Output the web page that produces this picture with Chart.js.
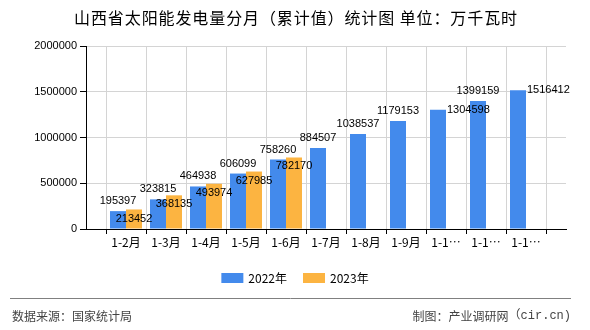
<!DOCTYPE html>
<html lang="zh-CN">
<head>
    <meta charset="UTF-8">
    <title>山西省太阳能发电量分月（累计值）统计图</title>
    <script src="https://cdn.jsdelivr.net/npm/chart.js@4.4.1/dist/chart.umd.min.js"></script>
    <style>
        body {
            margin: 0;
            background-color: #ffffff;
        }
        .wrap {
            width: 590px;
            height: 330px;
        }
    </style>
</head>
<body>
    <div class="wrap">
        <canvas id="solarChart" width="590" height="330"></canvas>
    </div>

    <script>
        const months = ['1-2月', '1-3月', '1-4月', '1-5月', '1-6月', '1-7月', '1-8月', '1-9月', '1-10月', '1-11月', '1-12月'];
        const values2022 = [195397, 323815, 464938, 606099, 758260, 884507, 1038537, 1179153, 1304598, 1399159, 1516412];
        const values2023 = [213452, 368135, 493974, 627985, 782170];
        const yTicks = [0, 500000, 1000000, 1500000, 2000000];
        const seriesNames = ['2022年', '2023年'];

        const titleText = '山西省太阳能发电量分月（累计值）统计图 单位：万千瓦时';
        const sourceText = '数据来源：国家统计局';
        const makerText = '制图：产业调研网';
        const makerSite = '（cir.cn)';

        const numFont = '11px "Liberation Sans", Arial, sans-serif';
        const cjkFont = '"Noto Sans CJK SC", "Liberation Sans", sans-serif';

        // blank slot at each end so the categories sit between the axis edges
        const pad = arr => [null].concat(months.map((m, i) => (i < arr.length ? arr[i] : null)), [null]);
        const labels = [''].concat(months, ['']);

        // title, footer, legend and value labels
        const decorPlugin = {
            id: 'decor',
            afterDraw(chart) {
                const ctx = chart.ctx;
                ctx.save();

                ctx.fillStyle = '#000';
                ctx.font = '16px ' + cjkFont;
                ctx.letterSpacing = '0.9px';
                ctx.textAlign = 'center';
                ctx.textBaseline = 'middle';
                ctx.fillText(titleText, 296, 18);
                ctx.letterSpacing = '0px';

                // legend
                const items = chart.data.datasets.map(ds => ({ text: ds.label, color: ds.backgroundColor }));
                ctx.font = '12px ' + cjkFont;
                const boxW = 22, gap = 5, itemGap = 16;
                const widths = items.map(it => boxW + gap + ctx.measureText(it.text).width);
                let x = 295 - (widths.reduce((a, b) => a + b, 0) + itemGap * (items.length - 1)) / 2;
                items.forEach((it, i) => {
                    ctx.fillStyle = it.color;
                    ctx.fillRect(x, 273, boxW, 10);
                    ctx.fillStyle = '#000';
                    ctx.textAlign = 'left';
                    ctx.fillText(it.text, x + boxW + gap, 278.5);
                    x += widths[i] + itemGap;
                });

                // footer
                ctx.strokeStyle = '#808080';
                ctx.lineWidth = 1;
                ctx.beginPath();
                ctx.moveTo(10, 298.5);
                ctx.lineTo(571, 298.5);
                ctx.stroke();
                ctx.fillStyle = '#444';
                ctx.font = '12px ' + cjkFont;
                ctx.textAlign = 'left';
                ctx.fillText(sourceText, 12, 316);
                ctx.font = '12px "Liberation Mono", "Noto Sans CJK SC", monospace';
                ctx.textAlign = 'right';
                ctx.fillText(makerSite, 571, 316);
                const siteW = ctx.measureText(makerSite).width;
                ctx.font = '12px ' + cjkFont;
                ctx.fillText(makerText, 571 - siteW, 316);
                ctx.restore();
            },
            afterDatasetsDraw(chart, args, opts) {
                const ctx = chart.ctx;
                ctx.save();
                ctx.font = numFont;
                ctx.fillStyle = '#000';
                ctx.textBaseline = 'middle';
                chart.data.datasets.forEach((ds, d) => {
                    chart.getDatasetMeta(d).data.forEach((bar, i) => {
                        const v = ds.data[i];
                        if (v === null || v === undefined) return;
                        const txt = String(v);
                        if (d === 0 && opts.sideLabels.includes(labels[i])) {
                            ctx.textAlign = 'left';
                            ctx.fillText(txt, bar.x + bar.width / 2 + 1, bar.y);
                        } else if (d === 0) {
                            ctx.textAlign = 'center';
                            ctx.fillText(txt, bar.x, bar.y - 10);
                        } else {
                            ctx.textAlign = 'center';
                            ctx.fillText(txt, bar.x, bar.y + 9);
                        }
                    });
                });
                ctx.restore();
            }
        };

        new Chart(document.getElementById('solarChart').getContext('2d'), {
            type: 'bar',
            data: {
                labels: labels,
                datasets: [
                    { label: seriesNames[0], data: pad(values2022), backgroundColor: '#438aec' },
                    { label: seriesNames[1], data: pad(values2023), backgroundColor: '#fcb441' }
                ]
            },
            options: {
                responsive: false,
                animation: false,
                layout: { padding: { top: 46, right: 24, bottom: 81, left: 0 } },
                datasets: { bar: { categoryPercentage: 0.8, barPercentage: 1 } },
                scales: {
                    x: {
                        offset: false,
                        grid: { color: '#d4d4d4', tickColor: '#000', tickLength: 5 },
                        border: { color: '#000' },
                        ticks: {
                            autoSkip: false,
                            maxRotation: 0,
                            color: '#000',
                            padding: 1,
                            font: { size: 12, family: cjkFont },
                            callback: function (val) {
                                const s = this.getLabelForValue(val);
                                return s.length > 4 ? s.slice(0, 3) + '…' : s;
                            }
                        },
                        afterFit: s => { s.height = 20; }
                    },
                    y: {
                        min: 0,
                        max: yTicks[yTicks.length - 1],
                        afterBuildTicks: s => { s.ticks = yTicks.map(v => ({ value: v })); },
                        grid: { color: '#d4d4d4', tickColor: '#000', tickLength: 6 },
                        border: { color: '#000' },
                        ticks: {
                            color: '#000',
                            padding: 3,
                            font: { size: 11, family: '"Liberation Sans", Arial, sans-serif' },
                            callback: v => String(v)
                        },
                        afterFit: s => { s.width = 86; }
                    }
                },
                plugins: {
                    legend: { display: false },
                    tooltip: { enabled: false },
                    decor: { sideLabels: ['1-10月', '1-12月'] }
                }
            },
            plugins: [decorPlugin]
        });
    </script>
</body>
</html>
